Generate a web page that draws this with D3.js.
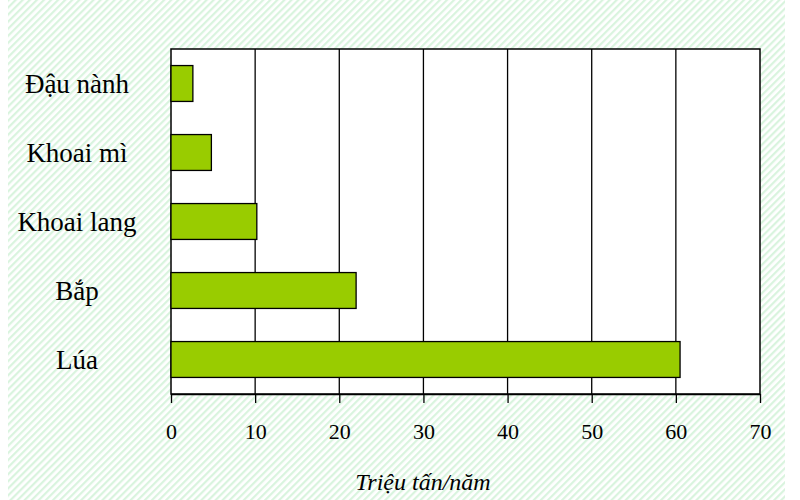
<!DOCTYPE html>
<html><head><meta charset="utf-8">
<script src="https://cdn.jsdelivr.net/npm/d3@7"></script>
<style>body{margin:0;background:#fff}svg{display:block}</style>
</head><body>
<svg id="c" width="800" height="500"></svg>
<script>
const categories = ["Đậu nành", "Khoai mì", "Khoai lang", "Bắp", "Lúa"];
const values = [2.6, 4.8, 10.2, 22.0, 60.5];
const ticks = [0, 10, 20, 30, 40, 50, 60, 70];
const axisTitle = "Triệu tấn/năm";

const FONT = "'Liberation Serif', 'Times New Roman', 'DejaVu Serif', serif";
const svg = d3.select("#c");
const defs = svg.append("defs");
const pat = defs.append("pattern").attr("id", "stripes")
  .attr("patternUnits", "userSpaceOnUse").attr("width", 5).attr("height", 5)
  .attr("patternTransform", "rotate(45)");
pat.append("rect").attr("width", 5).attr("height", 5).attr("fill", "#ffffff");
pat.append("rect").attr("width", 2.2).attr("height", 5).attr("fill", "#d9f4de");

svg.append("rect").attr("x", 8).attr("y", 0).attr("width", 777).attr("height", 500).attr("fill", "url(#stripes)");

const L = 171, R = 760, T = 49, B = 394;
const x = d3.scaleLinear().domain([0, 70]).range([L, R]);
const y = d3.scaleBand().domain(categories).range([T, B]).paddingInner(0.48).paddingOuter(0.24);

svg.append("rect").attr("x", L).attr("y", T).attr("width", R - L).attr("height", B - T)
  .attr("fill", "#fff").attr("stroke", "#000").attr("stroke-width", 1.5);

svg.append("g").selectAll("line").data(ticks.slice(1, -1)).join("line")
  .attr("x1", d => x(d)).attr("x2", d => x(d)).attr("y1", T).attr("y2", B)
  .attr("stroke", "#000").attr("stroke-width", 1.3);

svg.append("g").selectAll("rect").data(values).join("rect")
  .attr("x", x(0)).attr("y", (d, i) => y(categories[i]))
  .attr("width", d => x(d) - x(0)).attr("height", y.bandwidth())
  .attr("fill", "#99cc00").attr("stroke", "#000").attr("stroke-width", 1.3);

const ax = svg.append("g").attr("transform", `translate(0,${B})`)
  .call(d3.axisBottom(x).tickValues(ticks).tickSize(9).tickPadding(20).tickSizeOuter(0));
ax.select(".domain").attr("stroke", "#000").attr("stroke-width", 1.5);
ax.selectAll(".tick line").attr("stroke", "#000").attr("stroke-width", 1.3);
ax.selectAll("text").attr("font-family", FONT).attr("font-size", 22).attr("fill", "#000");

svg.append("g").selectAll("text").data(categories).join("text")
  .attr("x", 77).attr("y", d => y(d) + y.bandwidth() / 2).attr("dy", "0.35em")
  .attr("text-anchor", "middle").attr("font-family", FONT).attr("font-size", 27)
  .attr("fill", "#000").text(d => d);

svg.append("text").attr("x", 423).attr("y", 490).attr("text-anchor", "middle")
  .attr("font-family", FONT).attr("font-style", "italic").attr("font-size", 24)
  .attr("fill", "#000").text(axisTitle);
</script>
</body></html>
